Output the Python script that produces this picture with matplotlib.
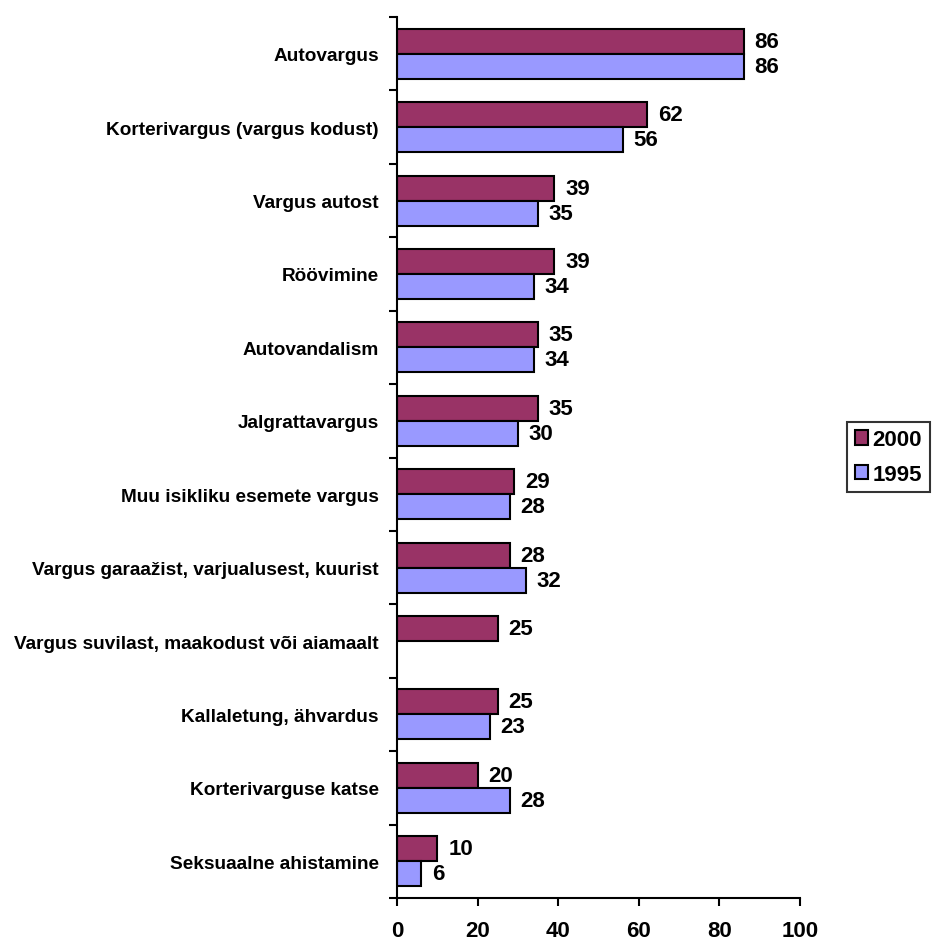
import matplotlib
matplotlib.use("Agg")
from matplotlib import pyplot as plt
import numpy as np

categories = [
    "Autovargus",
    "Korterivargus (vargus kodust)",
    "Vargus autost",
    "Röövimine",
    "Autovandalism",
    "Jalgrattavargus",
    "Muu isikliku esemete vargus",
    "Vargus garaažist, varjualusest, kuurist",
    "Vargus suvilast, maakodust või aiamaalt",
    "Kallaletung, ähvardus",
    "Korterivarguse katse",
    "Seksuaalne ahistamine",
]
values_2000 = [86, 62, 39, 39, 35, 35, 29, 28, 25, 25, 20, 10]
values_1995 = [86, 56, 35, 34, 34, 30, 28, 32, None, 23, 28, 6]
xticks = [0, 20, 40, 60, 80, 100]

color_2000 = "#993366"
color_1995 = "#9999FF"

bold_font = ["Liberation Sans", "DejaVu Sans"]

fig = plt.figure(figsize=(9.35, 9.45), dpi=100)
ax = fig.add_axes([397 / 935, 1 - 899 / 945, 403 / 935, 881 / 945])

y = np.arange(len(categories))
h = 0.34

v95 = [np.nan if v is None else v for v in values_1995]
b1 = ax.barh(y - h / 2, values_2000, height=h, color=color_2000,
             edgecolor="black", linewidth=1.5, label="2000")
b2 = ax.barh(y + h / 2, v95, height=h, color=color_1995,
             edgecolor="black", linewidth=1.5, label="1995")

for bars, vals in ((b1, values_2000), (b2, values_1995)):
    for rect, v in zip(bars, vals):
        if v is None:
            continue
        ax.text(v + 2.7, rect.get_y() + rect.get_height() / 2, str(v),
                va="center", ha="left", fontsize=16, fontweight="bold",
                family=bold_font)

ax.set_xlim(0, 100)
ax.set_ylim(len(categories) - 0.5, -0.5)
ax.set_xticks(xticks)
ax.set_xticklabels([str(t) for t in xticks], fontsize=16, fontweight="bold",
                   family=bold_font)
ax.tick_params(axis="x", direction="out", length=6, width=1.5, pad=10)

ax.set_yticks(y)
ax.set_yticklabels(categories, fontsize=13.7, fontweight="bold", family=bold_font)
ax.set_yticks(np.arange(len(categories) + 1) - 0.5, minor=True)
ax.tick_params(axis="y", which="major", length=0, pad=13)
ax.tick_params(axis="y", which="minor", direction="out", length=6, width=1.5)

for s in ("top", "right"):
    ax.spines[s].set_visible(False)
for s in ("left", "bottom"):
    ax.spines[s].set_linewidth(1.5)

leg = fig.legend(handles=[b1, b2], loc="center left",
                 bbox_to_anchor=(847 / 935, 1 - 458 / 945),
                 frameon=True, fancybox=False, edgecolor="black",
                 prop={"family": bold_font, "weight": "bold", "size": 16},
                 handlelength=0.6, handleheight=0.6, handletextpad=0.2,
                 borderpad=0.35, labelspacing=0.6, borderaxespad=0)
leg.get_frame().set_linewidth(1.5)

fig.savefig("out.png", dpi=100)
